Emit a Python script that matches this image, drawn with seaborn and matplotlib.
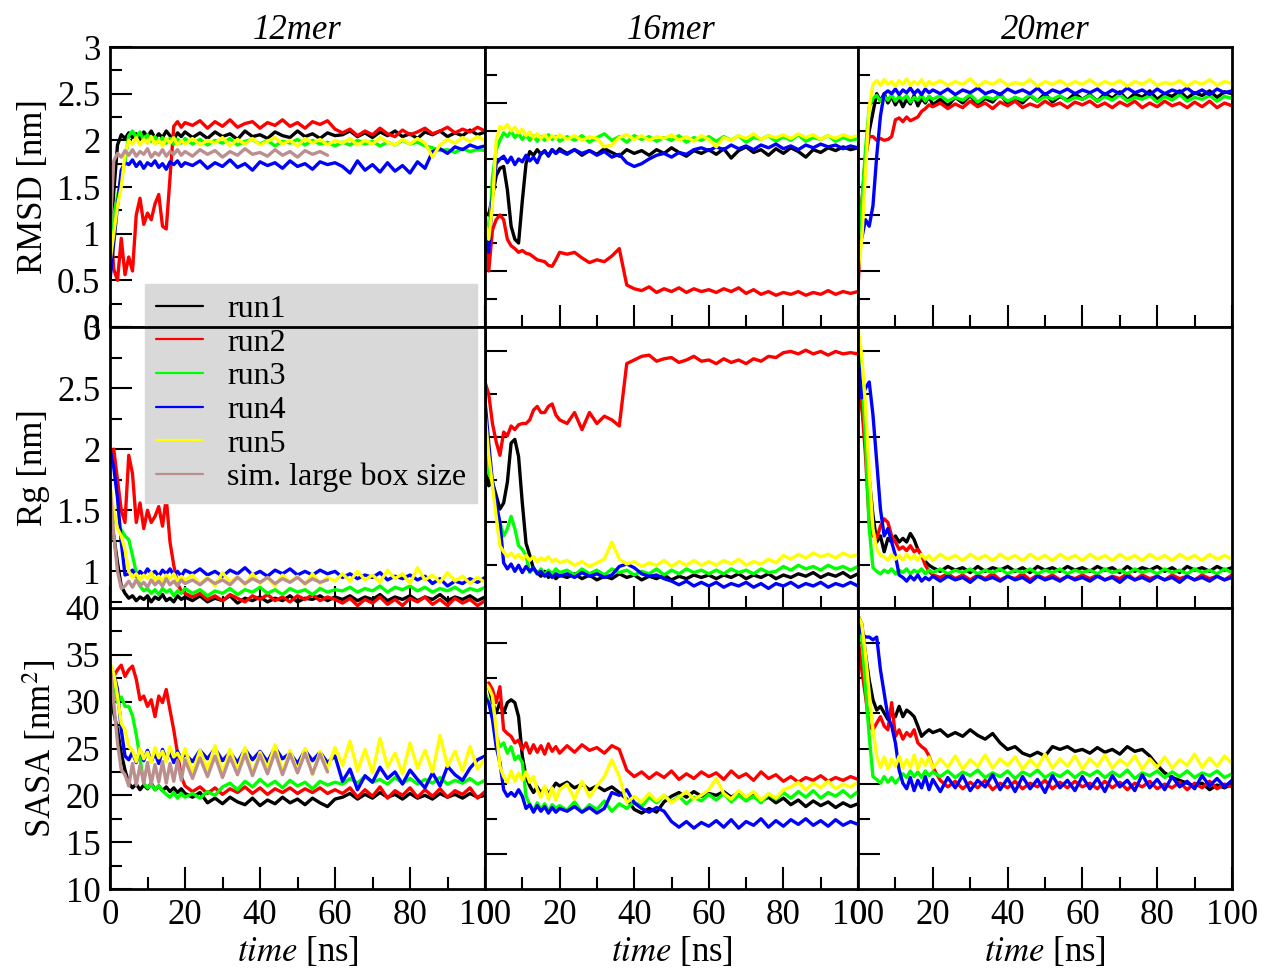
import matplotlib
matplotlib.use("Agg")
import matplotlib.pyplot as plt
from matplotlib.lines import Line2D
from matplotlib.ticker import MultipleLocator, FixedLocator, FuncFormatter
import pandas as pd
import seaborn as sns

# ---------------------------------------------------------------------------
# Sampled trajectories (time in ns)
# ---------------------------------------------------------------------------
time_ns = [0, 1, 2, 3, 4, 5, 6, 7, 8, 9, 10, 11, 12, 13, 14, 15, 16, 17, 18, 19, 20,
           22, 24, 26, 28, 30, 32, 34, 36, 38, 40, 42, 44, 46, 48, 50, 52, 54, 56, 58, 60,
           62, 64, 66, 68, 70, 72, 74, 76, 78, 80, 82, 84, 86, 88, 90, 92, 94, 96, 98, 100]
time_box = time_ns[:40]

run_names = ["run1", "run2", "run3", "run4", "run5"]
box_name = "sim. large box size"
sizes = ["12mer", "16mer", "20mer"]

# ---- RMSD [nm] ----
rmsd_12mer_run1 = [
    0.85, 1.45, 1.95, 2.06, 2.02, 2.08, 2.03, 2.07, 2.01, 2.09, 2.04, 2.10, 2.02, 2.07, 2.03, 2.10, 2.05, 2.01, 2.08, 2.04, 2.09,
    2.03, 2.08, 2.02, 2.09, 2.04, 2.07, 2.01, 2.10, 2.04, 2.06, 2.02, 2.09, 2.05, 2.03, 2.10, 2.04, 2.07, 2.02, 2.08, 2.05,
    2.06, 2.10, 2.04, 2.08, 2.03, 2.09, 2.05, 2.10, 2.04, 2.07, 2.02, 2.09, 2.06, 2.10, 2.04, 2.08, 2.05, 2.11, 2.06, 2.09]
rmsd_12mer_run2 = [
    1.20, 0.62, 0.50, 0.95, 0.56, 0.75, 0.60, 1.20, 1.38, 1.10, 1.22, 1.15, 1.32, 1.42, 1.08, 1.05, 1.60, 2.15, 2.20, 2.14, 2.19,
    2.16, 2.21, 2.13, 2.20, 2.15, 2.22, 2.14, 2.18, 2.20, 2.13, 2.19, 2.16, 2.22, 2.15, 2.19, 2.13, 2.20, 2.17, 2.21, 2.12,
    2.08, 2.12, 2.05, 2.10, 2.06, 2.13, 2.07, 2.04, 2.11, 2.06, 2.09, 2.13, 2.07, 2.10, 2.14, 2.08, 2.12, 2.09, 2.14, 2.10]
rmsd_12mer_run3 = [
    0.80, 1.20, 1.40, 1.60, 1.78, 2.05, 2.10, 2.03, 2.09, 2.00, 2.06, 1.99, 2.04, 1.98, 2.03, 1.97, 2.02, 1.96, 2.01, 1.97, 2.02,
    1.96, 2.01, 1.95, 2.00, 1.97, 2.02, 1.95, 1.99, 2.01, 1.96, 2.00, 1.94, 1.99, 1.97, 2.01, 1.95, 2.00, 1.96, 1.98, 1.94,
    1.98, 1.95, 2.00, 1.96, 1.99, 1.94, 1.98, 1.95, 2.00, 1.96, 1.98, 1.94, 1.92, 1.89, 1.90, 1.87, 1.91, 1.88, 1.90, 1.89]
rmsd_12mer_run4 = [
    0.50, 0.90, 1.30, 1.68, 1.76, 1.74, 1.79, 1.72, 1.77, 1.70, 1.76, 1.73, 1.78, 1.71, 1.75, 1.69, 1.77, 1.74, 1.78, 1.72, 1.76,
    1.73, 1.78, 1.70, 1.76, 1.72, 1.79, 1.71, 1.75, 1.68, 1.77, 1.73, 1.76, 1.70, 1.78, 1.72, 1.75, 1.69, 1.77, 1.74, 1.76,
    1.72, 1.65, 1.78, 1.68, 1.74, 1.66, 1.76, 1.67, 1.73, 1.65, 1.77, 1.70, 1.88, 1.91, 1.86, 1.93, 1.90, 1.95, 1.92, 1.94]
rmsd_12mer_run5 = [
    0.70, 1.00, 1.30, 1.50, 1.85, 2.00, 1.96, 2.03, 1.95, 2.01, 1.97, 2.04, 1.96, 2.00, 1.94, 2.02, 1.97, 2.03, 1.95, 2.00, 1.96,
    2.02, 1.95, 2.00, 1.97, 2.03, 1.94, 2.01, 1.96, 2.02, 1.95, 1.99, 2.03, 1.96, 2.00, 1.94, 2.02, 1.97, 2.01, 1.95, 2.00,
    1.97, 2.02, 1.95, 2.00, 1.96, 2.03, 1.98, 1.95, 2.01, 1.96, 2.02, 1.97, 1.82, 1.95, 2.01, 1.97, 2.03, 1.99, 2.04, 2.00]
rmsd_12mer_box = [
    1.00, 1.78, 1.86, 1.82, 1.89, 1.84, 1.90, 1.83, 1.88, 1.85, 1.91, 1.82, 1.87, 1.84, 1.90, 1.83, 1.88, 1.85, 1.90, 1.84, 1.88,
    1.83, 1.90, 1.85, 1.89, 1.82, 1.88, 1.84, 1.91, 1.85, 1.87, 1.83, 1.90, 1.84, 1.88, 1.82, 1.89, 1.85, 1.88, 1.84]

rmsd_16mer_run1 = [
    1.22, 1.20, 1.40, 1.62, 1.70, 1.72, 1.47, 1.08, 0.94, 0.90, 1.35, 1.75, 1.88, 1.84, 1.90, 1.85, 1.89, 1.83, 1.90, 1.86, 1.91,
    1.86, 1.90, 1.84, 1.89, 1.85, 1.91, 1.87, 1.83, 1.90, 1.86, 1.89, 1.84, 1.90, 1.86, 1.92, 1.87, 1.83, 1.89, 1.86, 1.90,
    1.85, 1.91, 1.81, 1.89, 1.93, 1.87, 1.90, 1.84, 1.91, 1.86, 1.92, 1.88, 1.82, 1.90, 1.87, 1.92, 1.89, 1.93, 1.90, 1.92]
rmsd_16mer_run2 = [
    1.26, 0.60, 1.04, 1.15, 1.20, 1.15, 0.94, 0.87, 0.84, 0.80, 0.82, 0.79, 0.78, 0.75, 0.72, 0.71, 0.70, 0.66, 0.65, 0.72, 0.80,
    0.78, 0.80, 0.74, 0.69, 0.72, 0.70, 0.76, 0.84, 0.45, 0.41, 0.39, 0.43, 0.37, 0.41, 0.38, 0.42, 0.37, 0.41, 0.38, 0.40,
    0.37, 0.41, 0.38, 0.42, 0.36, 0.40, 0.35, 0.38, 0.34, 0.37, 0.35, 0.38, 0.34, 0.37, 0.35, 0.39, 0.35, 0.38, 0.36, 0.38]
rmsd_16mer_run3 = [
    1.00, 0.90, 1.60, 1.90, 2.00, 2.08, 2.04, 2.10, 2.03, 2.07, 2.01, 2.06, 2.00, 2.05, 1.99, 2.04, 2.00, 2.06, 2.01, 2.04, 1.99,
    2.04, 2.00, 2.05, 1.98, 2.03, 2.07, 2.00, 2.04, 1.98, 2.05, 2.01, 2.04, 1.99, 2.03, 2.00, 2.05, 1.98, 2.03, 2.00, 2.04,
    1.99, 2.04, 2.00, 2.05, 1.98, 2.03, 2.01, 2.05, 1.99, 2.04, 2.00, 2.06, 1.99, 2.03, 2.01, 2.05, 1.99, 2.03, 2.00, 2.02]
rmsd_16mer_run4 = [
    1.00, 0.80, 1.40, 1.75, 1.80, 1.83, 1.76, 1.82, 1.74, 1.80, 1.77, 1.84, 1.78, 1.82, 1.76, 1.86, 1.88, 1.84, 1.90, 1.86, 1.89,
    1.85, 1.90, 1.86, 1.89, 1.84, 1.88, 1.82, 1.85, 1.76, 1.72, 1.75, 1.80, 1.84, 1.86, 1.82, 1.87, 1.85, 1.90, 1.92, 1.89,
    1.93, 1.90, 1.95, 1.91, 1.94, 1.90, 1.95, 1.92, 1.96, 1.91, 1.94, 1.90, 1.95, 1.92, 1.96, 1.93, 1.95, 1.91, 1.94, 1.92]
rmsd_16mer_run5 = [
    1.12, 0.94, 1.30, 2.00, 2.15, 2.12, 2.17, 2.10, 2.14, 2.08, 2.12, 2.05, 2.09, 2.03, 2.07, 2.02, 2.06, 2.01, 2.05, 2.02, 2.06,
    2.01, 2.05, 2.00, 2.04, 2.02, 1.93, 1.95, 2.03, 2.06, 2.01, 2.05, 2.00, 2.04, 2.02, 2.06, 2.00, 2.04, 1.99, 2.05, 2.01,
    1.93, 2.03, 2.00, 2.05, 2.02, 2.07, 2.01, 2.05, 2.03, 2.06, 2.02, 2.07, 2.03, 2.06, 2.01, 2.05, 2.02, 2.06, 2.03, 2.05]

rmsd_20mer_run1 = [
    0.90, 1.30, 1.80, 2.10, 2.30, 2.50, 2.42, 2.50, 2.40, 2.47, 2.38, 2.45, 2.36, 2.44, 2.39, 2.48, 2.37, 2.45, 2.40, 2.47, 2.38,
    2.44, 2.37, 2.46, 2.40, 2.48, 2.38, 2.45, 2.41, 2.50, 2.39, 2.46, 2.40, 2.48, 2.42, 2.50, 2.41, 2.47, 2.43, 2.50, 2.44,
    2.49, 2.42, 2.50, 2.45, 2.52, 2.43, 2.50, 2.46, 2.53, 2.44, 2.50, 2.47, 2.53, 2.45, 2.51, 2.48, 2.53, 2.46, 2.52, 2.50]
rmsd_20mer_run2 = [
    0.40, 1.30, 1.83, 2.04, 2.04, 2.00, 2.02, 2.00, 2.01, 2.04, 2.22, 2.24, 2.20, 2.25, 2.21, 2.23, 2.25, 2.31, 2.34, 2.38, 2.36,
    2.40, 2.34, 2.39, 2.35, 2.42, 2.36, 2.40, 2.34, 2.41, 2.37, 2.42, 2.35, 2.39, 2.36, 2.42, 2.37, 2.40, 2.35, 2.41, 2.38,
    2.42, 2.36, 2.40, 2.35, 2.41, 2.37, 2.42, 2.35, 2.40, 2.36, 2.42, 2.37, 2.40, 2.35, 2.41, 2.36, 2.42, 2.35, 2.40, 2.37]
rmsd_20mer_run3 = [
    0.70, 1.30, 1.90, 2.36, 2.45, 2.48, 2.42, 2.47, 2.43, 2.49, 2.42, 2.47, 2.44, 2.48, 2.41, 2.46, 2.43, 2.49, 2.42, 2.47, 2.44,
    2.48, 2.42, 2.46, 2.43, 2.49, 2.41, 2.47, 2.44, 2.48, 2.42, 2.46, 2.43, 2.49, 2.42, 2.47, 2.44, 2.48, 2.42, 2.46, 2.44,
    2.48, 2.42, 2.47, 2.43, 2.49, 2.42, 2.46, 2.44, 2.48, 2.41, 2.47, 2.43, 2.49, 2.42, 2.46, 2.44, 2.48, 2.42, 2.47, 2.45]
rmsd_20mer_run4 = [
    0.94, 0.95, 1.15, 1.08, 1.30, 1.83, 2.26, 2.50, 2.53, 2.50, 2.55, 2.49, 2.54, 2.51, 2.56, 2.50, 2.54, 2.49, 2.55, 2.51, 2.54,
    2.50, 2.55, 2.49, 2.54, 2.51, 2.56, 2.50, 2.53, 2.49, 2.55, 2.51, 2.54, 2.50, 2.56, 2.49, 2.54, 2.51, 2.55, 2.50, 2.54,
    2.51, 2.55, 2.49, 2.54, 2.50, 2.56, 2.51, 2.54, 2.49, 2.55, 2.50, 2.54, 2.51, 2.56, 2.50, 2.54, 2.49, 2.55, 2.51, 2.53]
rmsd_20mer_run5 = [
    0.60, 0.93, 1.65, 2.36, 2.60, 2.64, 2.59, 2.65, 2.60, 2.63, 2.58, 2.64, 2.60, 2.66, 2.59, 2.63, 2.60, 2.65, 2.58, 2.63, 2.60,
    2.64, 2.59, 2.63, 2.60, 2.66, 2.58, 2.63, 2.60, 2.65, 2.59, 2.62, 2.60, 2.65, 2.58, 2.63, 2.60, 2.64, 2.59, 2.63, 2.60,
    2.65, 2.59, 2.63, 2.60, 2.64, 2.58, 2.63, 2.60, 2.65, 2.59, 2.62, 2.60, 2.64, 2.58, 2.63, 2.60, 2.65, 2.59, 2.63, 2.61]

# ---- Rg [nm] ----
rg_12mer_run1 = [
    1.50, 1.29, 1.07, 0.88, 0.82, 0.78, 0.80, 0.76, 0.79, 0.77, 0.80, 0.75, 0.79, 0.77, 0.81, 0.76, 0.78, 0.75, 0.80, 0.77, 0.79,
    0.76, 0.80, 0.75, 0.78, 0.76, 0.80, 0.74, 0.78, 0.76, 0.79, 0.75, 0.78, 0.76, 0.80, 0.75, 0.78, 0.77, 0.80, 0.76, 0.79,
    0.77, 0.80, 0.76, 0.79, 0.77, 0.81, 0.76, 0.79, 0.77, 0.80, 0.76, 0.79, 0.77, 0.81, 0.76, 0.79, 0.77, 0.80, 0.76, 0.79]
rg_12mer_run2 = [
    1.90, 2.00, 1.75, 1.50, 1.40, 1.95, 1.80, 1.40, 1.56, 1.35, 1.50, 1.40, 1.45, 1.53, 1.37, 1.60, 1.24, 1.05, 0.90, 0.84, 0.82,
    0.79, 0.82, 0.77, 0.80, 0.76, 0.81, 0.78, 0.75, 0.80, 0.77, 0.81, 0.76, 0.79, 0.75, 0.80, 0.77, 0.81, 0.76, 0.79, 0.77,
    0.74, 0.78, 0.72, 0.77, 0.74, 0.79, 0.73, 0.77, 0.72, 0.78, 0.75, 0.79, 0.73, 0.77, 0.72, 0.78, 0.74, 0.77, 0.72, 0.76]
rg_12mer_run3 = [
    1.60, 1.42, 1.38, 1.34, 1.29, 1.26, 1.13, 0.99, 0.88, 0.84, 0.86, 0.82, 0.85, 0.81, 0.86, 0.83, 0.85, 0.80, 0.84, 0.82, 0.86,
    0.82, 0.85, 0.80, 0.84, 0.82, 0.86, 0.81, 0.85, 0.83, 0.87, 0.82, 0.85, 0.81, 0.86, 0.83, 0.85, 0.81, 0.86, 0.83, 0.85,
    0.84, 0.87, 0.83, 0.86, 0.84, 0.88, 0.83, 0.87, 0.85, 0.88, 0.84, 0.87, 0.83, 0.86, 0.84, 0.87, 0.83, 0.86, 0.84, 0.87]
rg_12mer_run4 = [
    2.00, 1.85, 1.60, 1.24, 0.97, 0.98, 1.01, 0.96, 1.00, 0.97, 1.02, 0.98, 1.00, 0.96, 1.01, 0.98, 1.02, 0.97, 1.00, 0.96, 1.01,
    0.98, 1.02, 0.97, 1.00, 0.96, 1.01, 0.98, 1.03, 0.97, 1.00, 0.96, 1.01, 0.98, 1.02, 0.97, 1.00, 0.97, 1.01, 0.98, 1.00,
    0.95, 0.98, 0.94, 0.97, 0.95, 0.99, 0.93, 0.96, 0.94, 0.97, 0.93, 0.96, 0.90, 0.94, 0.88, 0.92, 0.90, 0.94, 0.91, 0.95]
rg_12mer_run5 = [
    1.70, 1.50, 1.35, 1.29, 1.18, 1.00, 0.95, 0.98, 0.93, 0.97, 0.94, 0.99, 0.93, 0.96, 0.92, 0.97, 0.94, 0.98, 0.92, 0.96, 0.93,
    0.97, 0.90, 0.95, 0.88, 0.99, 0.91, 0.96, 0.89, 0.98, 0.90, 0.95, 0.88, 0.97, 0.91, 0.96, 0.89, 0.98, 0.90, 0.95, 0.92,
    0.98, 0.92, 1.00, 0.93, 0.97, 0.91, 1.01, 0.94, 0.98, 0.90, 1.03, 0.93, 0.97, 0.91, 0.99, 0.92, 0.96, 0.90, 0.95, 0.91]
rg_12mer_box = [
    1.70, 1.30, 1.00, 0.86, 0.88, 0.92, 0.87, 0.93, 0.88, 0.91, 0.87, 0.93, 0.89, 0.92, 0.88, 0.94, 0.89, 0.92, 0.88, 0.93, 0.90,
    0.93, 0.89, 0.94, 0.90, 0.93, 0.89, 0.95, 0.90, 0.94, 0.91, 0.95, 0.90, 0.94, 0.91, 0.95, 0.90, 0.94, 0.91, 0.93]

rg_16mer_run1 = [
    1.98, 1.70, 1.73, 1.62, 1.51, 1.56, 1.73, 2.05, 2.08, 1.94, 1.56, 1.23, 1.13, 1.02, 0.99, 0.96, 1.00, 0.95, 0.98, 0.94, 0.97,
    0.95, 0.98, 0.94, 0.97, 0.93, 0.96, 0.94, 0.98, 0.95, 0.97, 0.93, 0.96, 0.94, 0.97, 0.93, 0.96, 0.94, 0.97, 0.95, 0.97,
    0.94, 0.97, 0.95, 0.98, 0.94, 0.97, 0.95, 0.98, 0.94, 0.97, 0.95, 0.98, 0.96, 0.99, 0.95, 0.98, 0.96, 0.99, 0.95, 0.98]
rg_16mer_run2 = [
    2.55, 2.45, 2.21, 2.06, 1.95, 2.14, 2.11, 2.19, 2.16, 2.20, 2.21, 2.21, 2.24, 2.32, 2.35, 2.30, 2.30, 2.35, 2.37, 2.28, 2.24,
    2.21, 2.30, 2.16, 2.30, 2.21, 2.27, 2.24, 2.19, 2.70, 2.73, 2.76, 2.77, 2.72, 2.74, 2.75, 2.71, 2.73, 2.76, 2.72, 2.73,
    2.70, 2.74, 2.71, 2.73, 2.70, 2.74, 2.72, 2.76, 2.75, 2.79, 2.80, 2.78, 2.81, 2.78, 2.80, 2.77, 2.80, 2.78, 2.79, 2.78]
rg_16mer_run3 = [
    2.20, 1.80, 1.73, 1.51, 1.40, 1.29, 1.35, 1.45, 1.35, 1.21, 1.18, 1.13, 0.99, 1.03, 0.98, 1.02, 0.97, 1.01, 0.98, 1.02, 0.99,
    1.01, 0.97, 1.02, 0.98, 1.01, 0.97, 1.02, 0.99, 1.01, 0.97, 1.00, 0.98, 1.02, 0.97, 1.01, 0.98, 1.02, 0.99, 1.01, 0.98,
    1.01, 0.98, 1.02, 0.99, 1.01, 0.98, 1.02, 0.99, 1.00, 1.04, 1.01, 1.05, 1.02, 1.04, 1.01, 1.05, 1.02, 1.04, 1.01, 1.04]
rg_16mer_run4 = [
    2.40, 2.05, 1.73, 1.56, 1.40, 1.07, 1.02, 1.06, 1.00, 1.05, 0.99, 1.04, 1.00, 1.03, 0.98, 1.00, 0.96, 0.99, 0.95, 0.98, 0.96,
    0.98, 0.95, 0.99, 0.96, 0.98, 0.95, 0.97, 1.04, 1.06, 1.03, 0.98, 0.96, 0.97, 0.94, 0.92, 0.89, 0.92, 0.88, 0.91, 0.88,
    0.91, 0.87, 0.90, 0.88, 0.91, 0.87, 0.90, 0.86, 0.90, 0.88, 0.91, 0.87, 0.90, 0.88, 0.91, 0.87, 0.90, 0.88, 0.91, 0.88]
rg_16mer_run5 = [
    2.30, 1.95, 1.70, 1.45, 1.21, 1.16, 1.12, 1.15, 1.11, 1.14, 1.10, 1.13, 1.09, 1.12, 1.08, 1.11, 1.09, 1.12, 1.08, 1.10, 1.07,
    1.09, 1.05, 1.08, 1.04, 1.07, 1.10, 1.24, 1.10, 1.06, 1.08, 1.04, 1.07, 1.05, 1.09, 1.04, 1.08, 1.05, 1.09, 1.05, 1.08,
    1.05, 1.09, 1.06, 1.10, 1.05, 1.08, 1.06, 1.10, 1.07, 1.13, 1.10, 1.14, 1.11, 1.15, 1.12, 1.14, 1.11, 1.15, 1.12, 1.14]

rg_20mer_run1 = [
    2.63, 2.36, 2.09, 1.76, 1.46, 1.24, 1.29, 1.16, 1.27, 1.24, 1.29, 1.24, 1.27, 1.24, 1.31, 1.26, 1.18, 1.13, 1.08, 1.05, 1.03,
    1.00, 1.04, 1.01, 1.03, 0.99, 1.04, 1.00, 1.03, 1.01, 1.04, 1.00, 1.03, 0.99, 1.04, 1.01, 1.03, 1.00, 1.04, 1.01, 1.03,
    1.00, 1.04, 1.01, 1.03, 0.99, 1.04, 1.00, 1.03, 1.01, 1.04, 1.00, 1.03, 0.99, 1.04, 1.01, 1.03, 1.00, 1.04, 1.01, 1.03]
rg_20mer_run2 = [
    2.77, 2.36, 1.95, 1.40, 1.29, 1.27, 1.37, 1.43, 1.40, 1.29, 1.24, 1.18, 1.20, 1.17, 1.21, 1.16, 1.18, 1.13, 1.05, 1.00, 0.97,
    0.95, 0.98, 0.94, 0.97, 0.93, 0.97, 0.94, 0.98, 0.93, 0.96, 0.94, 0.98, 0.93, 0.97, 0.94, 0.97, 0.93, 0.96, 0.94, 0.97,
    0.94, 0.97, 0.93, 0.96, 0.94, 0.98, 0.93, 0.97, 0.94, 0.96, 0.93, 0.97, 0.94, 0.96, 0.93, 0.97, 0.94, 0.96, 0.93, 0.97]
rg_20mer_run3 = [
    2.82, 2.63, 2.09, 1.35, 1.03, 1.00, 0.98, 1.01, 0.99, 1.02, 0.98, 1.01, 0.99, 1.02, 0.98, 1.01, 0.99, 1.02, 0.98, 1.01, 0.99,
    1.02, 0.98, 1.01, 0.99, 1.02, 0.98, 1.01, 0.99, 1.02, 0.98, 1.01, 0.99, 1.02, 0.98, 1.01, 0.99, 1.02, 0.98, 1.01, 0.99,
    1.01, 0.98, 1.02, 0.99, 1.01, 0.98, 1.02, 0.99, 1.01, 0.98, 1.02, 0.99, 1.01, 0.98, 1.02, 0.99, 1.01, 0.98, 1.02, 0.99]
rg_20mer_run4 = [
    2.77, 2.42, 2.50, 2.55, 2.28, 1.90, 1.51, 1.29, 1.35, 1.24, 1.13, 0.97, 0.95, 0.92, 0.96, 0.93, 0.97, 0.92, 0.95, 0.93, 0.96,
    0.92, 0.96, 0.93, 0.95, 0.91, 0.96, 0.93, 0.95, 0.92, 0.96, 0.93, 0.95, 0.91, 0.96, 0.93, 0.95, 0.92, 0.96, 0.93, 0.95,
    0.92, 0.96, 0.93, 0.95, 0.91, 0.96, 0.93, 0.95, 0.92, 0.96, 0.93, 0.95, 0.91, 0.96, 0.93, 0.95, 0.92, 0.96, 0.93, 0.95]
rg_20mer_run5 = [
    2.99, 2.77, 2.36, 1.81, 1.35, 1.18, 1.13, 1.12, 1.09, 1.14, 1.10, 1.13, 1.09, 1.14, 1.10, 1.13, 1.09, 1.14, 1.10, 1.13, 1.09,
    1.14, 1.10, 1.13, 1.09, 1.14, 1.10, 1.13, 1.09, 1.14, 1.10, 1.13, 1.09, 1.14, 1.10, 1.13, 1.09, 1.14, 1.10, 1.13, 1.09,
    1.14, 1.10, 1.13, 1.09, 1.14, 1.10, 1.13, 1.09, 1.14, 1.10, 1.13, 1.09, 1.14, 1.10, 1.13, 1.09, 1.14, 1.10, 1.13, 1.10]

# ---- SASA [nm^2] ----
sasa_12mer_run1 = [
    31.3, 28.8, 27.0, 24.5, 22.7, 21.3, 20.8, 21.2, 20.6, 21.1, 20.7, 21.3, 20.6, 21.0, 20.5, 20.9, 20.4, 20.8, 20.3, 20.7, 20.2,
    19.8, 20.3, 19.2, 19.7, 19.1, 19.8, 19.3, 19.0, 19.7, 18.9, 19.5, 19.1, 19.8, 19.2, 19.6, 19.0, 19.7, 19.2, 18.8, 19.6,
    19.8, 20.2, 19.6, 20.1, 19.7, 20.3, 19.8, 20.1, 19.6, 20.2, 19.7, 20.0, 19.6, 20.2, 19.8, 20.1, 19.7, 20.2, 19.8, 20.0]
sasa_12mer_run2 = [
    33.8, 32.7, 33.4, 33.9, 32.7, 33.4, 33.8, 32.4, 30.2, 30.6, 29.5, 30.2, 28.4, 30.6, 29.9, 31.3, 29.1, 27.0, 24.5, 22.0, 21.0,
    20.4, 20.9, 20.2, 20.8, 20.1, 20.7, 20.3, 20.9, 20.2, 20.8, 20.1, 20.7, 20.3, 20.8, 20.2, 20.7, 20.3, 20.8, 20.2, 20.6,
    20.2, 20.8, 19.8, 20.6, 19.9, 20.9, 19.7, 20.5, 20.0, 20.8, 19.8, 20.6, 19.9, 20.7, 19.8, 20.5, 20.1, 20.8, 19.7, 20.4]
sasa_12mer_run3 = [
    33.0, 32.0, 29.9, 30.5, 29.5, 29.5, 28.5, 26.5, 24.0, 21.3, 20.8, 21.2, 20.6, 21.0, 20.5, 20.1, 19.8, 20.3, 19.7, 20.2, 19.8,
    20.2, 19.7, 20.4, 20.0, 20.9, 21.3, 20.6, 21.5, 20.9, 21.7, 21.0, 21.5, 20.8, 21.6, 21.0, 21.4, 20.7, 21.5, 21.1, 21.4,
    21.2, 21.8, 21.3, 22.0, 21.4, 21.7, 21.2, 21.9, 21.3, 21.8, 21.2, 21.7, 21.3, 21.9, 21.2, 21.6, 21.3, 21.8, 21.2, 21.6]
sasa_12mer_run4 = [
    33.9, 33.0, 31.3, 27.0, 24.2, 23.8, 24.6, 23.5, 24.9, 23.7, 24.8, 23.6, 24.5, 23.4, 24.9, 23.8, 24.6, 23.5, 24.7, 23.9, 24.4,
    23.6, 24.8, 23.9, 25.0, 23.7, 24.6, 23.5, 24.9, 23.8, 24.7, 23.6, 25.1, 23.9, 24.5, 23.4, 24.8, 23.7, 24.6, 23.5, 24.2,
    21.5, 22.8, 20.6, 22.1, 21.4, 23.0, 21.8, 22.5, 21.2, 22.7, 21.7, 20.8, 22.4, 21.0, 23.1, 22.2, 21.6, 22.9, 23.8, 24.2]
sasa_12mer_run5 = [
    34.1, 33.0, 30.6, 27.7, 27.0, 25.2, 24.8, 23.6, 25.0, 23.9, 24.6, 23.5, 25.1, 24.0, 24.7, 23.6, 25.2, 24.1, 24.5, 23.8, 25.0,
    22.5, 24.8, 22.8, 25.3, 22.4, 24.9, 22.7, 25.1, 22.3, 24.6, 22.9, 25.4, 22.5, 24.8, 22.6, 25.0, 22.2, 24.7, 22.8, 25.1,
    23.2, 25.8, 22.6, 24.9, 22.4, 26.1, 23.0, 24.5, 22.3, 25.6, 22.9, 24.8, 22.5, 26.4, 23.1, 24.7, 22.6, 25.2, 22.8, 23.9]
sasa_12mer_box = [
    33.8, 29.9, 25.6, 22.7, 22.2, 21.0, 23.4, 21.1, 23.2, 21.3, 23.5, 21.2, 23.3, 21.4, 23.6, 21.3, 23.4, 21.5, 23.7, 21.6, 23.8,
    21.8, 24.0, 22.0, 24.2, 21.9, 24.1, 22.2, 24.4, 22.1, 24.3, 22.3, 24.6, 22.2, 24.4, 22.4, 24.5, 22.3, 24.4, 22.5]

sasa_16mer_run1 = [
    32.0, 31.6, 29.9, 28.8, 29.9, 28.8, 29.9, 30.2, 29.9, 28.4, 24.2, 22.0, 21.0, 20.3, 20.9, 20.2, 20.8, 20.1, 20.7, 21.3, 21.0,
    21.4, 20.8, 21.2, 20.6, 21.0, 20.5, 20.9, 20.3, 19.6, 18.5, 18.1, 18.6, 18.2, 19.3, 19.9, 20.3, 19.8, 20.4, 19.9, 20.2,
    20.0, 20.4, 19.8, 20.3, 19.7, 20.1, 19.4, 19.8, 19.2, 19.7, 19.0, 19.5, 18.8, 19.4, 18.9, 19.3, 18.7, 19.2, 18.8, 19.1]
sasa_16mer_run2 = [
    31.6, 32.0, 31.3, 29.9, 31.6, 27.0, 26.6, 26.3, 25.6, 25.9, 24.9, 25.6, 24.5, 25.4, 24.6, 25.3, 24.4, 25.5, 24.7, 25.2, 24.5,
    25.3, 24.6, 25.4, 24.8, 25.1, 24.5, 25.3, 24.9, 22.7, 22.0, 22.5, 21.8, 22.4, 21.9, 22.6, 21.7, 22.3, 21.8, 22.5, 22.0,
    22.4, 21.7, 22.6, 21.9, 22.3, 21.6, 22.5, 21.8, 22.2, 21.5, 22.0, 21.4, 21.9, 21.6, 22.1, 21.5, 21.9, 21.6, 22.0, 21.7]
sasa_16mer_run3 = [
    31.0, 29.9, 28.8, 26.3, 25.2, 25.6, 24.5, 25.2, 23.8, 24.2, 23.5, 19.9, 19.0, 18.4, 19.2, 18.5, 19.1, 18.3, 19.0, 18.6, 18.9,
    18.4, 19.3, 18.2, 19.0, 18.5, 19.4, 18.3, 19.1, 18.6, 19.3, 18.8, 19.8, 19.2, 20.0, 19.3, 19.9, 19.1, 19.8, 19.4, 20.1,
    19.5, 20.2, 19.3, 20.0, 19.4, 19.9, 19.2, 20.1, 19.6, 20.3, 19.7, 20.4, 19.8, 20.5, 19.7, 20.3, 19.9, 20.5, 19.8, 20.4]
sasa_16mer_run4 = [
    30.5, 29.9, 28.1, 25.2, 23.5, 20.6, 19.9, 20.3, 19.9, 20.6, 19.9, 18.6, 19.0, 18.2, 18.9, 18.3, 18.8, 18.1, 18.7, 18.2, 18.6,
    18.3, 18.8, 18.2, 18.7, 18.1, 18.6, 20.3, 20.0, 20.6, 19.2, 18.6, 18.2, 18.7, 18.3, 17.2, 16.6, 17.2, 16.5, 17.1, 16.7,
    17.3, 16.6, 17.4, 16.5, 17.2, 16.8, 17.5, 16.6, 17.3, 16.7, 17.4, 16.9, 17.5, 16.8, 17.3, 16.7, 17.4, 16.8, 17.2, 16.9]
sasa_16mer_run5 = [
    32.0, 31.5, 30.6, 27.0, 23.1, 22.0, 21.4, 22.6, 21.5, 22.4, 21.6, 22.5, 21.4, 22.0, 20.6, 19.8, 21.0, 19.6, 20.8, 19.5, 20.6,
    21.2, 19.6, 21.5, 19.8, 21.0, 22.0, 23.8, 22.0, 19.2, 19.9, 19.3, 20.2, 19.4, 20.0, 19.2, 19.8, 20.4, 19.6, 20.0, 20.6,
    21.8, 20.2, 19.6, 20.5, 19.8, 20.4, 19.5, 20.2, 19.7, 20.6, 20.9, 21.4, 20.6, 21.3, 20.8, 21.5, 20.7, 21.2, 20.9, 21.4]

sasa_20mer_run1 = [
    39.2, 38.3, 35.1, 32.3, 30.2, 29.1, 29.5, 28.8, 28.1, 28.8, 28.4, 29.5, 28.4, 29.1, 28.8, 28.4, 27.4, 26.3, 26.7, 27.0, 26.7,
    27.0, 26.3, 26.7, 26.3, 27.0, 26.4, 26.0, 26.6, 25.6, 24.9, 25.2, 24.5, 24.2, 24.6, 24.2, 25.2, 24.9, 25.2, 24.7, 24.9,
    24.5, 25.1, 24.6, 24.9, 24.4, 25.2, 24.7, 24.9, 24.2, 23.2, 22.4, 21.9, 21.6, 21.3, 21.0, 21.3, 20.6, 21.1, 20.8, 21.2]
sasa_20mer_run2 = [
    36.9, 33.4, 30.6, 27.4, 27.0, 27.7, 28.4, 27.4, 27.0, 29.9, 26.3, 27.0, 26.0, 26.7, 26.3, 27.0, 25.6, 25.2, 24.9, 24.2, 23.0,
    21.6, 20.9, 21.5, 20.7, 21.4, 20.8, 21.6, 20.6, 21.3, 20.8, 21.5, 20.7, 21.3, 20.9, 21.6, 20.7, 21.4, 20.8, 21.5, 20.9,
    21.3, 20.7, 21.5, 20.8, 21.4, 20.6, 21.3, 20.9, 21.5, 20.7, 21.2, 20.8, 21.4, 20.6, 21.3, 20.8, 21.5, 20.7, 21.2, 20.9]
sasa_20mer_run3 = [
    38.7, 36.9, 31.6, 26.3, 22.0, 21.7, 21.3, 22.0, 21.4, 21.9, 21.3, 21.8, 22.3, 21.9, 22.6, 22.0, 22.5, 21.9, 22.6, 22.1, 22.5,
    22.0, 22.6, 21.9, 22.5, 22.1, 22.7, 21.9, 22.4, 22.0, 22.6, 21.8, 22.5, 22.1, 22.7, 21.9, 22.4, 22.0, 22.6, 21.9, 22.5,
    22.1, 22.6, 21.9, 22.5, 22.0, 22.7, 21.8, 22.4, 22.1, 22.6, 21.9, 22.5, 22.0, 22.6, 21.9, 22.4, 22.1, 22.6, 21.9, 22.3]
sasa_20mer_run4 = [
    39.0, 37.3, 36.9, 36.9, 36.6, 36.9, 33.4, 30.9, 28.4, 27.4, 25.6, 22.7, 21.3, 20.7, 21.9, 20.5, 21.6, 20.8, 22.0, 20.6, 21.7,
    20.4, 21.9, 20.8, 22.1, 20.5, 21.6, 20.9, 22.2, 20.6, 21.8, 20.4, 22.0, 20.7, 21.7, 20.3, 22.1, 20.8, 21.6, 20.5, 22.0,
    20.7, 21.8, 20.4, 22.1, 20.9, 21.6, 20.5, 22.2, 20.8, 21.7, 20.6, 22.0, 20.9, 21.5, 20.7, 22.1, 21.0, 21.8, 20.9, 21.6]
sasa_20mer_run5 = [
    39.2, 38.3, 35.1, 30.9, 27.0, 24.2, 23.0, 24.1, 22.8, 23.9, 23.1, 24.2, 22.9, 23.8, 23.0, 24.3, 22.8, 23.9, 23.2, 24.1, 22.9,
    23.9, 23.0, 24.2, 22.8, 23.8, 23.1, 24.3, 22.9, 23.9, 23.2, 24.1, 22.8, 23.8, 23.0, 24.4, 22.9, 23.9, 23.1, 24.2, 22.8,
    23.9, 23.1, 24.3, 22.9, 23.8, 23.2, 24.2, 22.8, 23.9, 23.0, 24.1, 22.9, 23.8, 23.2, 24.4, 23.0, 24.0, 23.1, 24.2, 23.4]

runs = {
    ("RMSD", "12mer"): [rmsd_12mer_run1, rmsd_12mer_run2, rmsd_12mer_run3, rmsd_12mer_run4, rmsd_12mer_run5],
    ("RMSD", "16mer"): [rmsd_16mer_run1, rmsd_16mer_run2, rmsd_16mer_run3, rmsd_16mer_run4, rmsd_16mer_run5],
    ("RMSD", "20mer"): [rmsd_20mer_run1, rmsd_20mer_run2, rmsd_20mer_run3, rmsd_20mer_run4, rmsd_20mer_run5],
    ("Rg", "12mer"): [rg_12mer_run1, rg_12mer_run2, rg_12mer_run3, rg_12mer_run4, rg_12mer_run5],
    ("Rg", "16mer"): [rg_16mer_run1, rg_16mer_run2, rg_16mer_run3, rg_16mer_run4, rg_16mer_run5],
    ("Rg", "20mer"): [rg_20mer_run1, rg_20mer_run2, rg_20mer_run3, rg_20mer_run4, rg_20mer_run5],
    ("SASA", "12mer"): [sasa_12mer_run1, sasa_12mer_run2, sasa_12mer_run3, sasa_12mer_run4, sasa_12mer_run5],
    ("SASA", "16mer"): [sasa_16mer_run1, sasa_16mer_run2, sasa_16mer_run3, sasa_16mer_run4, sasa_16mer_run5],
    ("SASA", "20mer"): [sasa_20mer_run1, sasa_20mer_run2, sasa_20mer_run3, sasa_20mer_run4, sasa_20mer_run5],
}
large_box = {"RMSD": rmsd_12mer_box, "Rg": rg_12mer_box, "SASA": sasa_12mer_box}

# ---------------------------------------------------------------------------
# Styling
# ---------------------------------------------------------------------------
sns.set_theme(style="ticks")
plt.rcParams.update({
    "font.family": ["Liberation Serif", "DejaVu Serif"],
    "mathtext.fontset": "stix",
    "axes.edgecolor": "black",
    "xtick.color": "black",
    "ytick.color": "black",
    "text.color": "black",
    "axes.labelcolor": "black",
})

palette = {"run1": "#000000", "run2": "#ff0000", "run3": "#00ff00",
           "run4": "#0000ff", "run5": "#ffff00", box_name: "#bc8f8f"}

quantities = ["RMSD", "Rg", "SASA"]
ylabels = ["RMSD [nm]", "Rg [nm]", "SASA [nm$^2$]"]
ylims = {"RMSD": (0, 3), "Rg": (0.7, 3.0), "SASA": (10, 40)}
left_steps = {"RMSD": (0.5, 0.25), "Rg": (0.5, 0.25), "SASA": (5, 2.5)}
inner_ticks = {
    "RMSD": ([0.6, 1.2, 1.8, 2.4], [0.3, 0.9, 1.5, 2.1, 2.7]),
    "Rg": ([1.4, 2.1, 2.8], [1.05, 1.75, 2.45]),
    "SASA": ([13.75, 21.25, 28.75, 36.25], [17.5, 25.0, 32.5]),
}

W, H = 1264, 969
fig = plt.figure(figsize=(W / 100, H / 100), dpi=100)
col_px = [110, 485, 858, 1232]
row_px = [47, 327, 608, 889]

fmt = FuncFormatter(lambda v, p: f"{v:g}")
axes = [[None] * 3 for _ in range(3)]
for r, q in enumerate(quantities):
    for c, sz in enumerate(sizes):
        x0, x1 = col_px[c], col_px[c + 1]
        y0, y1 = row_px[r], row_px[r + 1]
        ax = fig.add_axes([x0 / W, 1 - y1 / H, (x1 - x0) / W, (y1 - y0) / H])
        axes[r][c] = ax

        frames = [pd.DataFrame({"time": time_ns, "value": vals, "run": name})
                  for name, vals in zip(run_names, runs[(q, sz)])]
        order = list(run_names)
        if c == 0:
            frames.append(pd.DataFrame({"time": time_box, "value": large_box[q], "run": box_name}))
            order.append(box_name)
        df = pd.concat(frames, ignore_index=True)
        sns.lineplot(data=df, x="time", y="value", hue="run", hue_order=order,
                     palette=palette, estimator=None, sort=False, legend=False,
                     linewidth=2.4, ax=ax)

        ax.set_xlim(0, 100)
        ax.set_ylim(*ylims[q])
        ax.set_xlabel("")
        ax.set_ylabel("")
        ax.xaxis.set_major_locator(MultipleLocator(20))
        ax.xaxis.set_minor_locator(MultipleLocator(10))
        ax.xaxis.set_major_formatter(fmt)
        if c == 0:
            ax.yaxis.set_major_locator(MultipleLocator(left_steps[q][0]))
            ax.yaxis.set_minor_locator(MultipleLocator(left_steps[q][1]))
            ax.yaxis.set_major_formatter(fmt)
        else:
            ax.yaxis.set_major_locator(FixedLocator(inner_ticks[q][0]))
            ax.yaxis.set_minor_locator(FixedLocator(inner_ticks[q][1]))

        ax.tick_params(which="both", direction="in", top=False, right=False,
                       left=True, bottom=True, width=1.5, labelsize=25, pad=7,
                       labelleft=(c == 0), labelbottom=(r == 2))
        ax.tick_params(which="major", length=16)
        ax.tick_params(which="minor", length=8.5)
        for sp in ax.spines.values():
            sp.set_linewidth(2.0)
            sp.set_color("black")

        if r == 0:
            ax.set_title(sz, fontstyle="italic", fontsize=25, pad=4)
        if c == 0:
            ax.set_ylabel(ylabels[r], fontsize=25, labelpad=5)
        if r == 2:
            ax.set_xlabel(r"$\mathit{time}$ [ns]", fontsize=25, labelpad=2)

fig.align_ylabels([axes[r][0] for r in range(3)])

# Legend box spanning the two left panels; the row boundary stays visible on top
handles = [Line2D([], [], color=palette[n], lw=1.6) for n in run_names + [box_name]]
leg_ax = axes[1][0]
leg_ax.legend(handles, run_names + [box_name], loc="upper left",
              bbox_to_anchor=(145 / W, 1 - 284 / H), bbox_transform=fig.transFigure,
              frameon=True, fancybox=False, facecolor="#d9d9d9", edgecolor="#d9d9d9",
              framealpha=1, fontsize=23, handlelength=1.5, handletextpad=0.75,
              borderpad=0.33, labelspacing=0.135, borderaxespad=0)
leg_ax.set_zorder(3)
leg_ax.spines["top"].set_zorder(6)

fig.savefig("out.png", dpi=100)
